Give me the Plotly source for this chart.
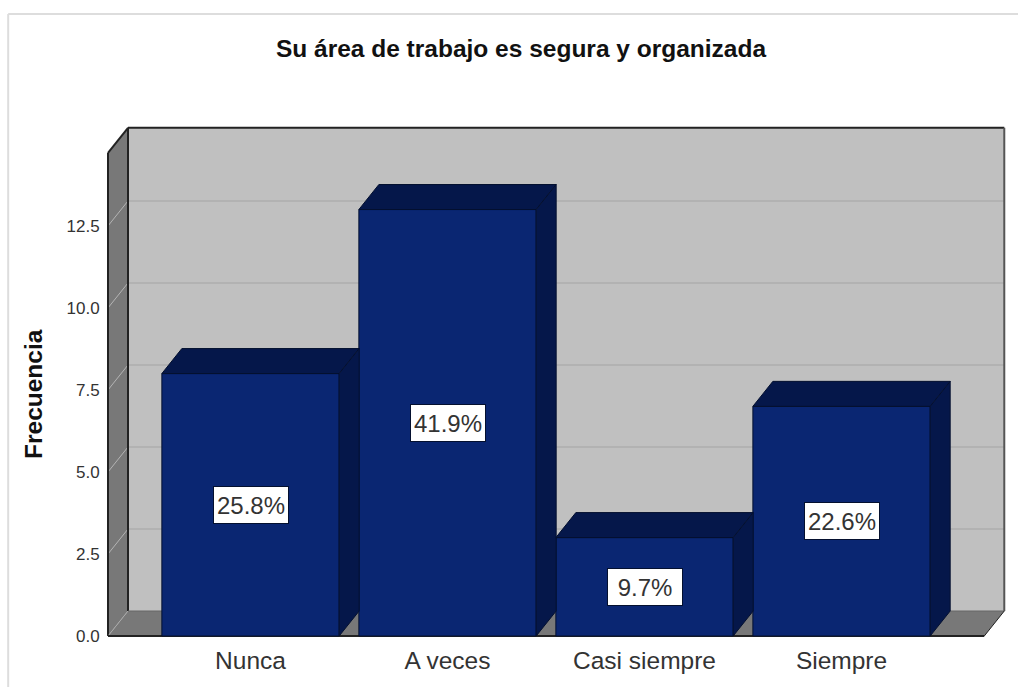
"""
Bar chart with a fake 3D box: Su área de trabajo es segura y organizada.
"""

import plotly.graph_objects as go

TITLE = "Su área de trabajo es segura y organizada"
Y_TITLE = "Frecuencia"
CATEGORIES = ["Nunca", "A veces", "Casi siempre", "Siempre"]
FRECUENCIA = [8, 13, 3, 7]
PORCENTAJES = ["25.8%", "41.9%", "9.7%", "22.6%"]
Y_TICKS = [0, 2.5, 5, 7.5, 10, 12.5]

FONT = "Liberation Sans, Arial, sans-serif"
BAR_FRONT = "#0a2672"
BAR_DEPTH = "#05174a"
BAR_LINE = "#04102f"
WALL = "#c0c0c0"
SIDE = "#787878"
TEXT = "#333333"

# box geometry, in axis units
BAR_WIDTH = 0.9
DEPTH_X = 0.1015
DEPTH_Y = 0.762
BOX_LEFT = -0.7234
BOX_RIGHT = 3.7246
BOX_TOP = 14.73


def polygon(points, **kwargs) -> dict:
    path = "M " + " L ".join(f"{x},{y}" for x, y in points) + " Z"
    return dict(type="path", path=path, xref="x", yref="y", layer="below", **kwargs)


def segment(x0, y0, x1, y1, color, width=1) -> dict:
    return dict(
        type="line", x0=x0, y0=y0, x1=x1, y1=y1, xref="x", yref="y",
        layer="below", line=dict(color=color, width=width),
    )


back_l, back_r = BOX_LEFT + DEPTH_X, BOX_RIGHT + DEPTH_X
back_b, back_t = DEPTH_Y, BOX_TOP + DEPTH_Y

shapes = [
    # outer frame of the screenshot
    dict(type="line", xref="paper", yref="paper", x0=-0.106, x1=1.05, y0=1.2, y1=1.2,
         layer="below", line=dict(color="#dddddd", width=2)),
    dict(type="line", xref="paper", yref="paper", x0=-0.106, x1=-0.106, y0=1.2, y1=-0.1,
         layer="below", line=dict(color="#dddddd", width=2)),
    # walls and floor
    polygon([(back_l, back_b), (back_r, back_b), (back_r, back_t), (back_l, back_t)],
            fillcolor=WALL, line=dict(width=0)),
    polygon([(BOX_LEFT, 0), (back_l, back_b), (back_l, back_t), (BOX_LEFT, BOX_TOP)],
            fillcolor=SIDE, line=dict(width=0)),
    polygon([(BOX_LEFT, 0), (BOX_RIGHT, 0), (back_r, back_b), (back_l, back_b)],
            fillcolor=SIDE, line=dict(width=0)),
]

# gridlines run along the back wall and down the side wall
for tick in Y_TICKS[1:]:
    shapes.append(segment(back_l, tick + DEPTH_Y, back_r, tick + DEPTH_Y, "#b2b2b2", 2))
    shapes.append(segment(BOX_LEFT, tick, back_l, tick + DEPTH_Y, "#b4b4b4", 1))

shapes += [
    segment(BOX_LEFT, BOX_TOP, back_l, back_t, "#222222", 2),
    segment(back_l, back_t, back_r, back_t, "#222222", 2),
    segment(back_l, back_b, back_l, back_t, "#222222", 2),
    segment(BOX_LEFT, 0, BOX_LEFT, BOX_TOP, "#222222", 2),
    segment(back_r, back_b, back_r, back_t, "#555555", 2),
    segment(back_l, back_b, back_r, back_b, "#666666", 1),
    segment(BOX_LEFT, 0, back_l, back_b, "#aaaaaa", 1),
    segment(BOX_RIGHT, 0, back_r, back_b, "#222222", 1),
    segment(BOX_LEFT, 0, BOX_RIGHT, 0, "#222222", 2),
]

positions = list(range(len(CATEGORIES)))

fig = go.Figure()

fig.add_trace(
    go.Bar(
        x=positions,
        y=FRECUENCIA,
        width=BAR_WIDTH,
        marker=dict(color=BAR_FRONT, line=dict(color=BAR_LINE, width=1)),
        showlegend=False,
        hoverinfo="skip",
    )
)

# top and right faces of every bar
for pos, value in zip(positions, FRECUENCIA):
    left, right = pos - BAR_WIDTH / 2, pos + BAR_WIDTH / 2
    fig.add_trace(
        go.Scatter(
            x=[left, right, right + DEPTH_X, left + DEPTH_X, left],
            y=[value, value, value + DEPTH_Y, value + DEPTH_Y, value],
            mode="lines",
            fill="toself",
            fillcolor=BAR_DEPTH,
            line=dict(color=BAR_LINE, width=1),
            showlegend=False,
            hoverinfo="skip",
        )
    )
    fig.add_trace(
        go.Scatter(
            x=[right, right + DEPTH_X, right + DEPTH_X, right, right],
            y=[0, DEPTH_Y, value + DEPTH_Y, value, 0],
            mode="lines",
            fill="toself",
            fillcolor=BAR_DEPTH,
            line=dict(color=BAR_LINE, width=1),
            showlegend=False,
            hoverinfo="skip",
        )
    )

annotations = [
    dict(
        x=pos, y=value / 2, xref="x", yref="y", text=label, showarrow=False,
        font=dict(family=FONT, size=24, color=TEXT),
        bgcolor="white", bordercolor=BAR_LINE, borderwidth=1,
        width=72, height=34, align="center", valign="middle",
    )
    for pos, value, label in zip(positions, FRECUENCIA, PORCENTAJES)
]

# y title sits lower than the plot centre, so it is placed by hand
annotations.append(
    dict(
        x=(33 - 104) / 904, y=(638 - 394) / 520, xref="paper", yref="paper",
        xanchor="center", yanchor="middle",
        text=f"<b>{Y_TITLE}</b>", textangle=-90, showarrow=False,
        font=dict(family=FONT, size=24.5, color="#111111"),
    )
)

fig.update_layout(
    width=1018,
    height=687,
    margin=dict(l=104, r=10, t=118, b=49),
    paper_bgcolor="white",
    plot_bgcolor="white",
    showlegend=False,
    title=dict(
        text=TITLE, x=521 / 1018, xanchor="center", y=1 - 48 / 687, yanchor="middle",
        font=dict(family=FONT, size=24.5, color="#111111", weight="bold"),
    ),
    shapes=shapes,
    annotations=annotations,
    xaxis=dict(
        range=[-0.7437, 3.845],
        automargin=False,
        tickmode="array",
        tickvals=positions,
        ticktext=CATEGORIES,
        showgrid=False,
        zeroline=False,
        ticks="outside",
        ticklen=1,
        tickcolor="rgba(255,255,255,0)",
        tickfont=dict(family=FONT, size=24.5, color=TEXT),
    ),
    yaxis=dict(
        range=[-0.061, 15.79],
        automargin=False,
        tickmode="array",
        tickvals=Y_TICKS,
        ticktext=[f"{t:.1f}" for t in Y_TICKS],
        showgrid=False,
        zeroline=False,
        ticks="outside",
        ticklen=0,
        tickcolor="rgba(255,255,255,0)",
        tickfont=dict(family=FONT, size=17, color=TEXT),
    ),
)

fig.write_html(
    "out.html",
    config=dict(displayModeBar=False),
    post_script="document.body.style.margin='0';",
)
